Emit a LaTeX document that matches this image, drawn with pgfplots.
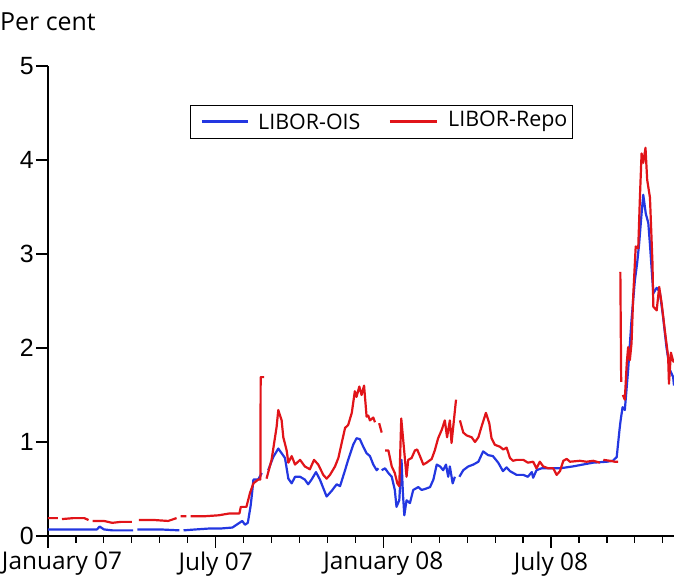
\documentclass[border=0pt]{standalone}
\usepackage{pgfplots}
\pgfplotsset{compat=1.18}
\usepackage{fontspec}
\setmainfont{Open Sans}
\newfontfamily\arialf{Liberation Sans}
\definecolor{oisblue}{RGB}{35,55,225}
\definecolor{repored}{RGB}{225,20,25}
\begin{document}
\begin{tikzpicture}
\begin{axis}[
  scale only axis,
  width=626bp, height=470bp,
  xmin=0, xmax=22.4, ymin=0, ymax=5,
  axis x line*=bottom, axis y line*=left,
  axis line style={line width=1.6bp, black},
  tick align=outside,
  major tick length=12bp, minor tick length=7bp,
  tick style={line width=1.2bp, black},
  ytick={0,1,2,3,4,5},
  yticklabels={0,1,2,3,4,5},
  yticklabel style={font=\arialf\fontsize{25}{25}\selectfont, inner sep=0pt, xshift=-2bp},
  xtick={0,6,12,18},
  minor xtick={1,2,3,4,5,7,8,9,10,11,13,14,15,16,17,19,20,21,22},
  xticklabels={{\makebox[0pt][l]{\hspace{-46bp}January 07}},July 07,January 08,July 08},
  xticklabel style={font=\fontsize{24.5}{24.5}\selectfont, inner sep=0pt, yshift=-4bp},
  unbounded coords=jump,
]
\coordinate (LL) at (rel axis cs:-0.07668,-0.08936);
\coordinate (UR) at (rel axis cs:1,1.14043);
\coordinate (PC) at (rel axis cs:-0.07668,1.0745);
\coordinate (FA) at (rel axis cs:0.2268,0.8468);
\coordinate (FB) at (rel axis cs:0.8371,0.9170);
\coordinate (B1) at (rel axis cs:0.2460,0.8819);
\coordinate (B2) at (rel axis cs:0.3195,0.8819);
\coordinate (BT) at (rel axis cs:0.3355,0.8819);
\coordinate (R1) at (rel axis cs:0.5463,0.8819);
\coordinate (R2) at (rel axis cs:0.6214,0.8819);
\coordinate (RT) at (rel axis cs:0.6390,0.8819);
\addplot[color=oisblue, line width=2.2bp, line join=round] coordinates {
(0,0.07) (0.5,0.07) (1.0,0.07) (1.5,0.07) (1.75,0.07) (1.85,0.10) (2.0,0.07) (2.3,0.06) (2.8,0.06) (3.05,0.06) (3.1,nan) (3.2,0.07) (4.0,0.07) (4.7,0.06) (4.75,nan) (4.85,0.06) (5.3,0.07) (5.8,0.08) (6.2,0.08) (6.6,0.09) (6.8,0.13) (6.95,0.16) (7.05,0.12) (7.15,0.14) (7.25,0.32) (7.3,0.45) (7.35,0.6) (7.52,0.6) (7.65,0.67) (7.75,nan) (7.88,0.7) (8.06,0.84) (8.24,0.93) (8.36,0.88) (8.48,0.83) (8.6,0.61) (8.72,0.56) (8.84,0.63) (9.02,0.63) (9.19,0.6) (9.31,0.55) (9.43,0.6) (9.59,0.68) (9.73,0.6) (9.85,0.51) (9.97,0.42) (10.15,0.48) (10.33,0.55) (10.45,0.53) (10.63,0.7) (10.74,0.81) (10.92,0.97) (11.04,1.04) (11.16,1.03) (11.28,0.95) (11.4,0.88) (11.52,0.85) (11.64,0.76) (11.76,0.7) (11.82,0.72) (11.88,nan) (11.94,0.7) (12.06,0.72) (12.18,0.67) (12.3,0.63) (12.41,0.49) (12.47,0.31) (12.57,0.38) (12.65,0.81) (12.7,0.45) (12.75,0.22) (12.83,0.38) (12.95,0.35) (13.07,0.49) (13.25,0.52) (13.37,0.49) (13.49,0.5) (13.67,0.52) (13.79,0.6) (13.91,0.76) (14.03,0.74) (14.14,0.7) (14.24,0.76) (14.32,0.63) (14.38,0.74) (14.48,0.56) (14.56,0.63) (14.64,nan) (14.72,0.63) (14.86,0.7) (15.04,0.74) (15.22,0.76) (15.4,0.79) (15.57,0.9) (15.75,0.86) (15.92,0.85) (16.11,0.78) (16.28,0.69) (16.41,0.73) (16.53,0.69) (16.77,0.65) (17.01,0.65) (17.17,0.63) (17.31,0.68) (17.36,0.62) (17.48,0.7) (17.66,0.72) (17.96,0.72) (18.32,0.72) (18.78,0.74) (19.14,0.76) (19.5,0.78) (19.99,0.79) (20.21,0.8) (20.35,0.84) (20.45,1.13) (20.49,1.23) (20.56,1.37) (20.64,1.34) (20.76,1.77) (20.88,2.3) (21.0,2.72) (21.08,2.9) (21.15,3.1) (21.24,3.43) (21.3,3.63) (21.39,3.43) (21.48,3.33) (21.54,3.1) (21.66,2.58) (21.78,2.64) (21.89,2.6) (22.01,2.33) (22.13,2.01) (22.25,1.77) (22.37,1.69) (22.4,1.6)
};
\addplot[color=repored, line width=2.2bp, line join=round] coordinates {
(0,0.19) (0.35,0.19) (0.4,nan) (0.5,0.18) (0.9,0.19) (1.3,0.19) (1.45,0.17) (1.5,nan) (1.6,0.16) (2.0,0.16) (2.3,0.14) (2.6,0.15) (3.0,0.15) (3.1,nan) (3.25,0.17) (3.8,0.17) (4.3,0.16) (4.6,0.19) (4.67,nan) (4.75,0.21) (4.95,0.21) (5.0,nan) (5.1,0.21) (5.6,0.21) (6.1,0.22) (6.5,0.24) (6.85,0.24) (6.9,0.31) (7.1,0.31) (7.23,0.46) (7.35,0.56) (7.52,0.6) (7.6,0.6) (7.61,1.69) (7.73,1.69) (7.75,nan) (7.82,0.61) (8.0,0.81) (8.18,1.16) (8.24,1.34) (8.36,1.23) (8.42,1.05) (8.54,0.91) (8.6,0.78) (8.72,0.85) (8.84,0.76) (9.02,0.81) (9.19,0.74) (9.37,0.71) (9.52,0.81) (9.67,0.76) (9.85,0.65) (9.97,0.61) (10.09,0.65) (10.27,0.74) (10.39,0.83) (10.51,0.99) (10.63,1.15) (10.74,1.18) (10.87,1.31) (10.98,1.54) (11.04,1.48) (11.14,1.59) (11.22,1.5) (11.31,1.6) (11.4,1.27) (11.46,1.28) (11.52,1.23) (11.64,1.26) (11.7,1.21) (11.78,nan) (11.85,1.2) (11.94,1.1) (12.0,nan) (12.06,0.91) (12.18,0.91) (12.3,0.74) (12.41,0.67) (12.5,0.56) (12.57,0.53) (12.64,1.25) (12.83,0.63) (12.89,0.81) (13.01,0.83) (13.13,0.91) (13.21,0.92) (13.31,0.85) (13.43,0.76) (13.55,0.78) (13.73,0.82) (13.84,0.91) (13.96,1.04) (14.09,1.13) (14.2,1.23) (14.28,1.05) (14.38,1.23) (14.44,0.99) (14.5,1.16) (14.6,1.45) (14.67,nan) (14.74,1.23) (14.86,1.1) (14.98,1.07) (15.16,1.05) (15.28,1.0) (15.4,1.05) (15.51,1.16) (15.67,1.31) (15.79,1.2) (15.87,1.04) (15.99,0.97) (16.17,0.95) (16.29,0.92) (16.41,0.94) (16.53,0.83) (16.64,0.8) (16.77,0.81) (17.01,0.81) (17.17,0.78) (17.36,0.79) (17.48,0.72) (17.6,0.79) (17.72,0.74) (17.9,0.72) (18.08,0.72) (18.2,0.65) (18.32,0.69) (18.44,0.8) (18.56,0.82) (18.68,0.79) (19.03,0.8) (19.27,0.79) (19.51,0.8) (19.75,0.78) (19.8,nan) (19.87,0.81) (20.11,0.8) (20.29,0.79) (20.4,0.79) (20.44,nan) (20.48,2.81) (20.51,1.64) (20.54,nan) (20.57,1.5) (20.64,1.45) (20.71,1.84) (20.76,2.01) (20.82,1.87) (20.88,2.05) (20.94,2.55) (21.03,3.08) (21.12,3.06) (21.18,3.6) (21.24,4.07) (21.3,3.97) (21.38,4.13) (21.44,3.79) (21.54,3.6) (21.63,2.9) (21.66,2.44) (21.78,2.4) (21.87,2.65) (21.96,2.47) (22.07,2.19) (22.19,1.91) (22.22,1.62) (22.29,1.95) (22.37,1.86) (22.4,1.85)
};
\end{axis}
\fill[white] (FA) rectangle (FB);
\draw[black, line width=0.9bp] (FA) rectangle (FB);
\draw[draw=oisblue, line width=2.3bp] (B1) -- (B2);
\draw[draw=repored, line width=2.3bp] (R1) -- (R2);
\node[anchor=west, inner sep=0pt, font=\fontsize{21.5}{21.5}\selectfont] at (BT) {LIBOR-OIS};
\node[anchor=west, inner sep=0pt, font=\fontsize{21.5}{21.5}\selectfont] at (RT) {LIBOR-Repo};
\node[anchor=base west, inner sep=0pt, font=\fontsize{25}{25}\selectfont] at (PC) {Per cent};
\pgfresetboundingbox
\path[use as bounding box] (LL) rectangle (UR);
\end{tikzpicture}
\end{document}
